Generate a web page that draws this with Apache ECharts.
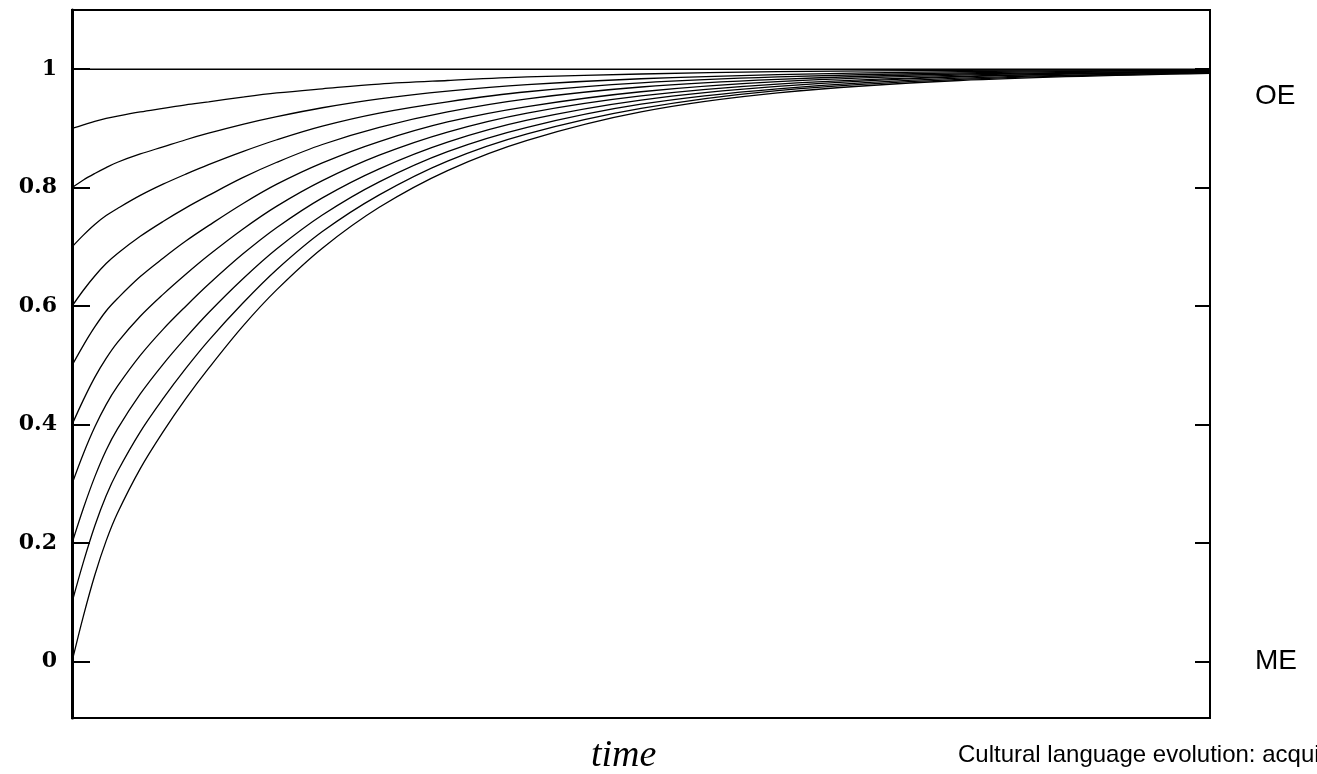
<!DOCTYPE html>
<html>
<head>
<meta charset="utf-8">
<title>time</title>
<script src="https://cdn.jsdelivr.net/npm/echarts@6/dist/echarts.min.js"></script>
<style>
html,body{margin:0;padding:0;background:#fff;}
#main{width:1317px;height:774px;}
</style>
</head>
<body>
<div id="main"></div>
<script>
// time samples (arbitrary units, no ticks shown on the x axis)
var times = [0, 1, 2, 3, 4, 6, 8, 10, 12, 15, 18, 22, 27, 33, 40, 50, 62, 78, 100];
// one curve per starting value 0, 0.1 ... 1
var curve00 = [0, .077, .146, .204, .251, .326, .388, .444, .495, .566, .628, .698, .767, .829, .880, .928, .960, .981, .993];
var curve01 = [0.1, .168, .229, .280, .321, .388, .444, .495, .542, .605, .662, .726, .788, .845, .891, .934, .964, .983, .994];
var curve02 = [0.2, .259, .312, .357, .393, .452, .502, .547, .589, .646, .697, .754, .810, .861, .902, .941, .967, .985, .994];
var curve03 = [0.3, .351, .396, .434, .465, .517, .561, .600, .637, .688, .733, .783, .832, .877, .914, .948, .971, .987, .995];
var curve04 = [0.4, .442, .480, .512, .539, .583, .620, .654, .686, .730, .769, .812, .855, .894, .926, .955, .975, .988, .996];
var curve05 = [0.5, .534, .565, .592, .613, .650, .681, .710, .736, .773, .806, .842, .878, .911, .937, .962, .979, .990, .996];
var curve06 = [0.6, .627, .651, .672, .689, .718, .743, .766, .787, .817, .843, .873, .902, .928, .950, .970, .983, .992, .997];
var curve07 = [0.7, .720, .738, .753, .765, .787, .806, .823, .839, .861, .881, .904, .926, .945, .962, .977, .987, .994, .998];
var curve08 = [0.8, .813, .824, .834, .843, .857, .869, .881, .892, .907, .920, .935, .950, .963, .974, .984, .991, .996, .998];
var curve09 = [0.9, .906, .912, .917, .921, .928, .934, .940, .945, .953, .960, .967, .975, .981, .987, .992, .996, .998, .999];
var curve10 = [1, 1, 1, 1, 1, 1, 1, 1, 1, 1, 1, 1, 1, 1, 1, 1, 1, 1, 1];
var yTicks = [0, 0.2, 0.4, 0.6, 0.8, 1];
var sideLabels = ['ME', 'OE'];
var sideValues = [0, 0.954];

var curves = [curve00, curve01, curve02, curve03, curve04, curve05, curve06, curve07, curve08, curve09, curve10];

function makeSeries(){
    var out = [];
    for (var i = 0; i < curves.length; i++) {
        var pts = [];
        for (var j = 0; j < times.length; j++) {
            pts.push([times[j], curves[i][j]]);
        }
        out.push({
            type: 'line',
            data: pts,
            smooth: 0.35,
            showSymbol: false,
            silent: true,
            lineStyle: {color: '#000', width: 1.3}
        });
    }
    return out;
}

var chart = echarts.init(document.getElementById('main'));
var option = {
    backgroundColor: '#fff',
    animation: false,
    grid: {
        left: 72, right: 107, top: 10, bottom: 56,
        show: true, borderColor: '#000', borderWidth: 2
    },
    xAxis: {
        type: 'value', min: 0, max: 100,
        axisLine: {show: true, onZero: false, lineStyle: {color: '#000', width: 2}},
        axisTick: {show: false},
        axisLabel: {show: false},
        splitLine: {show: false}
    },
    yAxis: [{
        type: 'value', min: -0.095, max: 1.1,
        position: 'left',
        axisLine: {show: true, lineStyle: {color: '#000', width: 3}},
        axisTick: {show: true, inside: true, length: 18, customValues: yTicks,
            lineStyle: {color: '#000', width: 2}},
        axisLabel: {
            customValues: yTicks, margin: 15, color: '#000',
            fontFamily: 'DejaVu Serif', fontWeight: 'bold', fontSize: 22,
            formatter: function(v){ return String(+v.toFixed(1)); }
        },
        splitLine: {show: false}
    }, {
        type: 'value', min: -0.095, max: 1.1,
        position: 'right',
        axisLine: {show: true, lineStyle: {color: '#000', width: 2}},
        axisTick: {show: true, inside: true, length: 15, customValues: yTicks,
            lineStyle: {color: '#000', width: 2}},
        axisLabel: {
            customValues: sideValues, margin: 45, color: '#000',
            fontFamily: 'Liberation Sans', fontSize: 28,
            formatter: function(v){ return v < 0.5 ? sideLabels[0] : sideLabels[1]; }
        },
        splitLine: {show: false}
    }],
    graphic: [{
        type: 'text', left: 591, top: 737,
        style: {text: 'time', fill: '#000', font: 'italic 38px "Liberation Serif"'}
    }, {
        type: 'text', left: 958, top: 743,
        style: {text: 'Cultural language evolution: acquisition', fill: '#000', font: '24px "Liberation Sans"'}
    }],
    series: makeSeries()
};
chart.setOption(option);
</script>
</body>
</html>
